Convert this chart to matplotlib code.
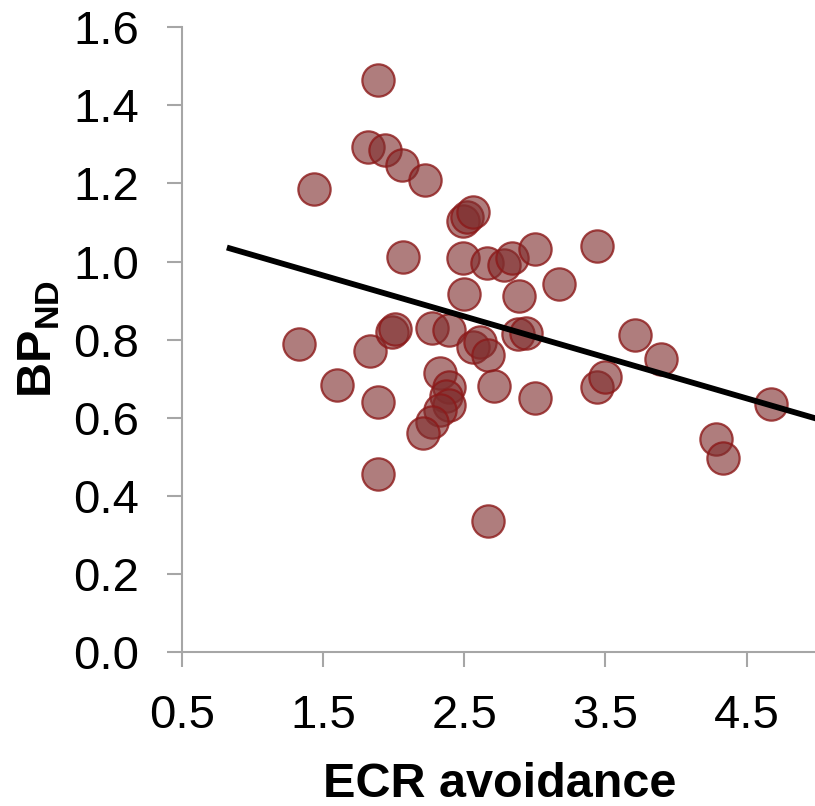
import numpy as np
import matplotlib
matplotlib.use('Agg')
import matplotlib.pyplot as plt

# 字体设置 (Helvetica/Arial 风格)
plt.rcParams['font.family'] = ['Liberation Sans', 'DejaVu Sans']
plt.rcParams['mathtext.fontset'] = 'custom'
plt.rcParams['mathtext.rm'] = 'Liberation Sans'
plt.rcParams['mathtext.bf'] = 'Liberation Sans:bold'

# 数据
ecr_avoidance = [1.89, 1.82, 1.94, 2.06, 2.22, 1.44, 2.49, 2.52, 2.56,
                 2.07, 2.49, 2.66, 2.78, 2.84, 3.00, 3.44, 2.50, 2.89, 3.17,
                 1.33, 1.83, 1.99, 2.01, 2.27, 2.39, 2.56, 2.61, 2.67,
                 2.88, 2.94, 3.71, 3.89, 1.60, 1.89, 2.33, 2.39, 2.37,
                 2.39, 2.33, 2.27, 2.21, 2.71, 3.00, 3.44, 3.50, 1.89,
                 2.67, 4.67, 4.28, 4.33]
bp_nd = [1.465, 1.294, 1.286, 1.247, 1.210, 1.187, 1.105, 1.115, 1.128,
         1.012, 1.008, 0.997, 0.991, 1.010, 1.032, 1.040, 0.916, 0.913, 0.943,
         0.789, 0.771, 0.820, 0.826, 0.829, 0.825, 0.782, 0.793, 0.761,
         0.815, 0.817, 0.812, 0.750, 0.684, 0.641, 0.714, 0.679, 0.655,
         0.632, 0.620, 0.590, 0.562, 0.681, 0.650, 0.679, 0.705, 0.455,
         0.336, 0.635, 0.545, 0.496]

# 回归线端点
fit_x = [0.82, 5.0]
fit_y = [1.036, 0.597]

x_ticks = [0.5, 1.5, 2.5, 3.5, 4.5]
y_ticks = [0.0, 0.2, 0.4, 0.6, 0.8, 1.0, 1.2, 1.4, 1.6]

fig = plt.figure(figsize=(8.15, 8.06), dpi=100)
ax = fig.add_axes([0.2229, 0.1911, 0.780, 0.775])

# 散点
ax.scatter(ecr_avoidance, bp_nd, s=540,
           facecolor=(127/255, 45/255, 45/255, 0.62),
           edgecolor=(140/255, 25/255, 25/255, 0.8),
           linewidth=1.6, zorder=2)

# 回归线
ax.plot(fit_x, fit_y, color='black', linewidth=4.2, solid_capstyle='butt', zorder=3)

ax.set_xlim(0.5, 5.0)
ax.set_ylim(0.0, 1.6)
ax.set_xticks(x_ticks)
ax.set_yticks(y_ticks)
ax.set_xticklabels([f'{v:.1f}' for v in x_ticks])
ax.set_yticklabels([f'{v:.1f}' for v in y_ticks])

for s in ['top', 'right']:
    ax.spines[s].set_visible(False)
for s in ['left', 'bottom']:
    ax.spines[s].set_color('#a6a6a6')
    ax.spines[s].set_linewidth(1.5)

ax.tick_params(axis='both', direction='out', length=10.5, width=1.5,
               color='#a6a6a6', labelsize=34, pad=20, labelcolor='black')

ax.set_xlabel('ECR avoidance', fontsize=35, fontweight='bold')
ax.xaxis.set_label_coords(0.5, -0.176)
ax.xaxis.label.set_va('top')

fig.text(39 / 815, 1 - 339 / 806, r'$\mathbf{BP}_{\mathbf{ND}}$', fontsize=35,
         rotation=90, ha='center', va='center')

plt.savefig('out.png', dpi=100)
